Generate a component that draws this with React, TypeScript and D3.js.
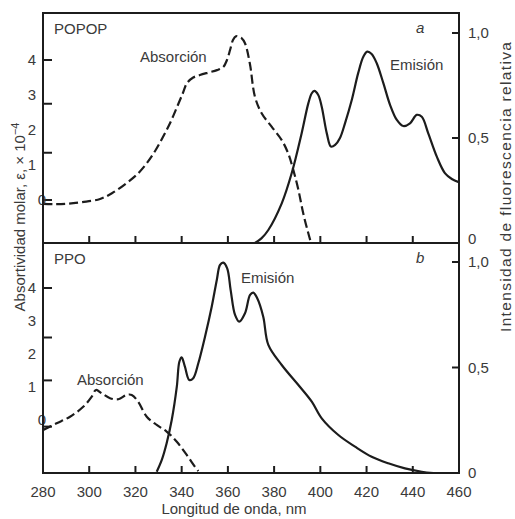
import React from "react";
import * as d3 from "d3";

// ---------- data ----------
const nmTickLabels = [280, 300, 320, 340, 360, 380, 400, 420, 440, 460];
const nmInnerTicks = [300, 320, 340, 360, 380, 400, 420, 440];

const absLabels = [0, 1, 2, 3, 4];
const absTickMarksA = [0, 1.35, 2.75, 4];
const absTickMarksB = [-0.2, 1.2, 2.5, 4];

const emTickValues = [0, 0.5, 1];
const emTickLabels = ["0", "0,5", "1,0"];

// POPOP (panel a)
const popopAbsNm = [280.1, 285, 290.4, 297, 304.7, 310, 316.3, 321, 325.0, 328.5, 331.9, 335, 338.0, 340.5, 342.3, 345, 347.9, 351.5, 355.3, 358, 359.6, 361, 362.2, 363.5, 364.4, 366, 367.4, 369.5, 371.7, 374.6, 379.0, 383.3, 386.1, 388.3, 390.5, 392.6, 394.8, 396.3, 398];
const popopAbsVal = [-0.11, -0.12, -0.11, -0.06, 0.03, 0.2, 0.49, 0.75, 1.06, 1.4, 1.8, 2.2, 2.66, 3.05, 3.34, 3.5, 3.57, 3.64, 3.71, 3.8, 4.0, 4.3, 4.57, 4.68, 4.66, 4.62, 4.48, 3.9, 2.95, 2.48, 2.09, 1.71, 1.33, 0.86, 0.29, -0.38, -0.95, -1.29, -1.6];
const popopEmNm = [371.7, 374.5, 377.5, 383.3, 387.6, 391.9, 394.8, 396.3, 397.4, 399.1, 400.6, 402.8, 404.6, 406.4, 408.5, 410.7, 413.6, 416.4, 418.6, 420.3, 422.2, 424.4, 427.3, 430.2, 433.1, 435.9, 438.8, 441.7, 443.9, 446.7, 450.4, 453.9, 456.9, 459.9];
const popopEmVal = [0, 0.022, 0.062, 0.189, 0.332, 0.522, 0.665, 0.713, 0.724, 0.705, 0.649, 0.522, 0.459, 0.467, 0.5, 0.571, 0.681, 0.81, 0.887, 0.911, 0.9, 0.856, 0.76, 0.657, 0.586, 0.557, 0.57, 0.61, 0.601, 0.522, 0.411, 0.333, 0.305, 0.29];

// PPO (panel b)
const ppoAbsNm = [280.1, 285.9, 291.7, 297.4, 301.1, 302.9, 305.4, 309.0, 312.6, 316.2, 318.4, 321.2, 324.9, 329.2, 333.5, 337.9, 342.2, 345.8, 347.2];
const ppoAbsVal = [-0.3, -0.1, 0.1, 0.4, 0.71, 0.91, 0.81, 0.66, 0.63, 0.76, 0.76, 0.55, 0.1, -0.15, -0.35, -0.66, -1.06, -1.42, -1.55];
const ppoEmNm = [329.2, 331.4, 333.5, 335.7, 337.9, 339.0, 340.0, 341.4, 343.3, 345.0, 347.2, 350.1, 353.0, 355.2, 356.6, 358.0, 359.7, 361.2, 363.1, 364.9, 367.4, 369.6, 371.0, 372.7, 375.3, 377.5, 383.3, 390.5, 396.3, 400.6, 407.8, 415.0, 422.2, 429.4, 436.6, 443.9, 448.9];
const ppoEmVal = [0.006, 0.062, 0.141, 0.251, 0.409, 0.527, 0.548, 0.504, 0.441, 0.449, 0.52, 0.646, 0.788, 0.915, 0.986, 0.997, 0.97, 0.867, 0.749, 0.717, 0.757, 0.844, 0.855, 0.828, 0.741, 0.607, 0.512, 0.417, 0.338, 0.259, 0.18, 0.125, 0.077, 0.046, 0.022, 0.006, 0.0];

// ---------- layout ----------
const W = 515;
const H = 519;
const LEFT = 43;
const RIGHT = 459;
const FONT = "'Liberation Sans', Arial, Helvetica, sans-serif";
const TEXT = "#3a3a3a";
const INK = "#1c1c1c";

const x = d3.scaleLinear().domain([280, 460]).range([LEFT, RIGHT]);

type Panel = {
  id: string;
  top: number;
  bottom: number;
  absScale: d3.ScaleLinear<number, number>;
  emScale: d3.ScaleLinear<number, number>;
  absTicks: number[];
  name: string;
  letter: string;
  absNm: number[];
  absVal: number[];
  emNm: number[];
  emVal: number[];
  absLabel: [number, number];
  emLabel: [number, number];
};

const panels: Panel[] = [
  {
    id: "a",
    top: 13,
    bottom: 243,
    absScale: d3.scaleLinear().domain([0, 4]).range([200, 60]),
    emScale: d3.scaleLinear().domain([0, 1]).range([243, 33]),
    absTicks: absTickMarksA,
    name: "POPOP",
    letter: "a",
    absNm: popopAbsNm,
    absVal: popopAbsVal,
    emNm: popopEmNm,
    emVal: popopEmVal,
    absLabel: [140, 62],
    emLabel: [390, 70],
  },
  {
    id: "b",
    top: 243,
    bottom: 473,
    absScale: d3.scaleLinear().domain([0, 4]).range([420, 288]),
    emScale: d3.scaleLinear().domain([0, 1]).range([473, 262]),
    absTicks: absTickMarksB,
    name: "PPO",
    letter: "b",
    absNm: ppoAbsNm,
    absVal: ppoAbsVal,
    emNm: ppoEmNm,
    emVal: ppoEmVal,
    absLabel: [77, 385],
    emLabel: [241, 283],
  },
];

function linePath(nm: number[], val: number[], yScale: d3.ScaleLinear<number, number>) {
  const pts = nm.map((n, i) => [n, val[i]] as [number, number]);
  return (
    d3
      .line<[number, number]>()
      .x((d) => x(d[0]))
      .y((d) => yScale(d[1]))
      .curve(d3.curveCatmullRom.alpha(0.5))(pts) || ""
  );
}

export default function App() {
  return (
    <svg
      width={W}
      height={H}
      style={{ position: "absolute", left: 0, top: 0, background: "#fff" }}
      fontFamily={FONT}
    >
      <defs>
        {panels.map((p) => (
          <clipPath id={"clip-" + p.id} key={p.id}>
            <rect x={LEFT} y={p.top} width={RIGHT - LEFT} height={p.bottom - p.top} />
          </clipPath>
        ))}
      </defs>

      {panels.map((p) => (
        <g key={p.id}>
          {/* curves */}
          <g clipPath={`url(#clip-${p.id})`}>
            <path
              d={linePath(p.absNm, p.absVal, p.absScale)}
              fill="none"
              stroke={INK}
              strokeWidth={2.2}
              strokeDasharray="9,4"
            />
            <path
              d={linePath(p.emNm, p.emVal, p.emScale)}
              fill="none"
              stroke={INK}
              strokeWidth={2.2}
            />
          </g>

          {/* left ticks (inward) */}
          {p.absTicks.map((t, i) => (
            <line
              key={"lt" + i}
              x1={LEFT}
              x2={LEFT + 9}
              y1={p.absScale(t)}
              y2={p.absScale(t)}
              stroke={INK}
              strokeWidth={2}
            />
          ))}
          {absLabels.map((t) => (
            <text
              key={"ll" + t}
              x={t === 0 ? 46 : 36}
              y={p.absScale(t)}
              dy="0.35em"
              textAnchor="end"
              fontSize={15}
              fill={TEXT}
            >
              {t}
            </text>
          ))}

          {/* right ticks (inward) */}
          {emTickValues.map((t, i) => (
            <g key={"rt" + i}>
              {t > 0 && (
                <line
                  x1={RIGHT - 7}
                  x2={RIGHT}
                  y1={p.emScale(t)}
                  y2={p.emScale(t)}
                  stroke={INK}
                  strokeWidth={2}
                />
              )}
              <text
                x={468}
                y={p.emScale(t) - (t === 0 && p.id === "a" ? 4 : 0)}
                dy="0.35em"
                textAnchor="start"
                fontSize={15}
                fill={TEXT}
              >
                {emTickLabels[i]}
              </text>
            </g>
          ))}

          {/* bottom ticks (inward) */}
          {nmInnerTicks.map((t) => (
            <line
              key={"bt" + t}
              x1={x(t)}
              x2={x(t)}
              y1={p.bottom}
              y2={p.bottom - 7}
              stroke={INK}
              strokeWidth={2}
            />
          ))}

          {/* panel labels */}
          <text x={54} y={p.top + 21} fontSize={15} fill={TEXT}>
            {p.name}
          </text>
          <text x={416} y={p.top + 20} fontSize={15} fontStyle="italic" fill={TEXT}>
            {p.letter}
          </text>
          <text x={p.absLabel[0]} y={p.absLabel[1]} fontSize={15} fill={TEXT}>
            Absorción
          </text>
          <text x={p.emLabel[0]} y={p.emLabel[1]} fontSize={15} fill={TEXT}>
            Emisión
          </text>
        </g>
      ))}

      {/* frame */}
      <rect
        x={LEFT}
        y={13}
        width={RIGHT - LEFT}
        height={473 - 13}
        fill="none"
        stroke={INK}
        strokeWidth={2}
      />
      <line x1={LEFT} x2={RIGHT} y1={243} y2={243} stroke={INK} strokeWidth={2} />

      {/* x tick labels */}
      {nmTickLabels.map((t) => (
        <text
          key={"xl" + t}
          x={x(t)}
          y={497}
          textAnchor="middle"
          fontSize={15}
          fill={TEXT}
        >
          {t}
        </text>
      ))}

      {/* axis titles */}
      <text x={234} y={514} textAnchor="middle" fontSize={15} fill={TEXT}>
        Longitud de onda, nm
      </text>
      <text
        transform="translate(25,217) rotate(-90)"
        textAnchor="middle"
        fontSize={15}
        fill={TEXT}
      >
        Absortividad molar, ε, × 10
        <tspan dy={-6} fontSize={11}>
          −4
        </tspan>
      </text>
      <text
        transform="translate(511,187) rotate(-90)"
        textAnchor="middle"
        fontSize={15.5}
        fill={TEXT}
        textLength={290}
        lengthAdjust="spacing"
      >
        Intensidad de fluorescencia relativa
      </text>
    </svg>
  );
}
